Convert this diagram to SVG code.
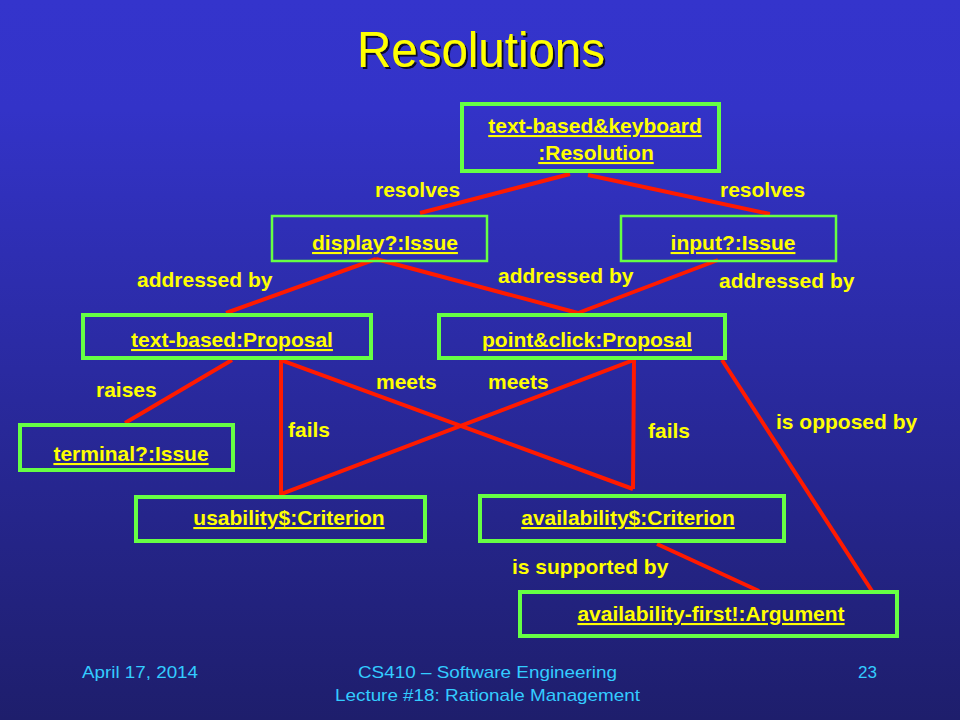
<svg xmlns="http://www.w3.org/2000/svg" width="960" height="720" viewBox="0 0 960 720">
<defs>
<linearGradient id="bg" x1="0" y1="0" x2="0" y2="1">
<stop offset="0" stop-color="#3434CC"/>
<stop offset="0.15" stop-color="#3333C8"/>
<stop offset="1" stop-color="#1E1E6C"/>
</linearGradient>
<filter id="sh" x="-10%" y="-10%" width="130%" height="130%">
<feDropShadow dx="2" dy="2" stdDeviation="0.6" flood-color="#000000" flood-opacity="0.8"/>
</filter>
</defs>
<style>
.box{fill:none;stroke:#66FF44;stroke-width:4}
.thin{stroke-width:2.5}
.nt{font-family:"Liberation Sans",Arial,sans-serif;font-weight:bold;font-size:21px;fill:#FFFF00;text-anchor:middle;text-decoration:underline}
.lb{font-family:"Liberation Sans",Arial,sans-serif;font-weight:bold;font-size:21px;fill:#FFFF00}
.ln{stroke:#FF1A00;stroke-width:4;fill:none;stroke-linecap:butt}
.ft{font-family:"Liberation Sans",Arial,sans-serif;font-size:17px;fill:#33CCFF}
</style>
<rect width="960" height="720" fill="url(#bg)"/>
<text x="481" y="67" text-anchor="middle" font-family="'Liberation Sans',Arial,sans-serif" font-size="50" fill="#FFFF00" filter="url(#sh)" textLength="248" lengthAdjust="spacingAndGlyphs">Resolutions</text>

<g id="connectors">
<line class="ln" x1="570" y1="174" x2="420" y2="213"/>
<line class="ln" x1="588" y1="175" x2="770" y2="214"/>
<line class="ln" x1="376" y1="259" x2="226" y2="313"/>
<line class="ln" x1="376" y1="259" x2="578" y2="313"/>
<line class="ln" x1="578" y1="313" x2="718" y2="260"/>
<line class="ln" x1="232" y1="360" x2="125" y2="423"/>
<polyline class="ln" points="633,489 281,360 281,494 634,360 633,489"/>
<line class="ln" x1="722" y1="360" x2="872" y2="591"/>
<line class="ln" x1="657" y1="544" x2="759" y2="591"/>
</g>

<g id="labels">
<text class="lb" x="375" y="197">resolves</text>
<text class="lb" x="720" y="197">resolves</text>
<text class="lb" x="137" y="287">addressed by</text>
<text class="lb" x="498" y="283">addressed by</text>
<text class="lb" x="719" y="288">addressed by</text>
<text class="lb" x="96" y="397">raises</text>
<text class="lb" x="376" y="389">meets</text>
<text class="lb" x="488" y="389">meets</text>
<text class="lb" x="288" y="437">fails</text>
<text class="lb" x="648" y="438">fails</text>
<text class="lb" x="776" y="429">is opposed by</text>
<text class="lb" x="512" y="574">is supported by</text>
</g>

<g id="n-resolution">
<rect class="box" x="462" y="104" width="257" height="67"/>
<text class="nt" x="595" y="133">text-based&amp;keyboard</text>
<text class="nt" x="596" y="160">:Resolution</text>
</g>
<g id="n-display">
<rect class="box thin" x="272" y="216" width="215" height="45"/>
<text class="nt" x="385" y="250">display?:Issue</text>
</g>
<g id="n-input">
<rect class="box thin" x="621" y="216" width="215" height="45"/>
<text class="nt" x="733" y="250">input?:Issue</text>
</g>
<g id="n-textbased">
<rect class="box" x="83" y="315" width="288" height="43"/>
<text class="nt" x="232" y="347">text-based:Proposal</text>
</g>
<g id="n-pointclick">
<rect class="box" x="439" y="315" width="286" height="43"/>
<text class="nt" x="587" y="347">point&amp;click:Proposal</text>
</g>
<g id="n-terminal">
<rect class="box" x="20" y="425" width="213" height="45"/>
<text class="nt" x="131" y="461">terminal?:Issue</text>
</g>
<g id="n-usability">
<rect class="box" x="136" y="497" width="289" height="44"/>
<text class="nt" x="289" y="525">usability$:Criterion</text>
</g>
<g id="n-availability">
<rect class="box" x="480" y="496" width="304" height="45"/>
<text class="nt" x="628" y="525">availability$:Criterion</text>
</g>
<g id="n-argument">
<rect class="box" x="520" y="592" width="377" height="44"/>
<text class="nt" x="711" y="621">availability-first!:Argument</text>
</g>

<g id="footer">
<text class="ft" x="82" y="678" textLength="116" lengthAdjust="spacingAndGlyphs">April 17, 2014</text>
<text class="ft" x="358" y="678" textLength="259" lengthAdjust="spacingAndGlyphs">CS410 – Software Engineering</text>
<text class="ft" x="335" y="701" textLength="305" lengthAdjust="spacingAndGlyphs">Lecture #18: Rationale Management</text>
<text class="ft" x="858" y="678" textLength="19" lengthAdjust="spacingAndGlyphs">23</text>
</g>
</svg>
